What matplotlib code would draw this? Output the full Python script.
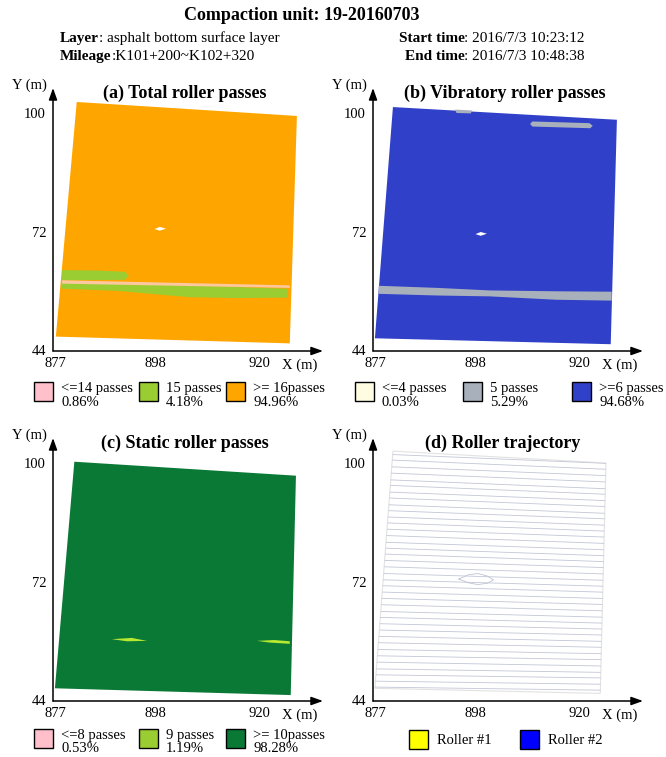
import matplotlib
matplotlib.use('Agg')
import matplotlib.pyplot as plt
from matplotlib.patches import Polygon, Rectangle

plt.rcParams['font.family'] = ['Liberation Serif', 'DejaVu Serif']

W, H = 666, 757

# ---- data (m) ----
x_ticks = [877, 898, 920]
y_ticks = [44, 72, 100]

# compaction area outlines
field_a_x = [881.4, 927.8, 926.3, 877.0]
field_a_y = [102.6, 99.3, 45.6, 47.2]
field_b_x = [880.6, 927.8, 926.5, 876.8]
field_b_y = [101.4, 98.4, 45.4, 46.8]
field_c_x = [880.9, 927.6, 926.5, 876.8]
field_c_y = [100.3, 97.0, 45.2, 46.8]
field_d_x = [880.6, 925.5, 924.3, 876.8]
field_d_y = [102.8, 100.0, 45.6, 46.8]

# (a) total passes
a_15a_x = [878.3, 886.0, 891.5, 892.4, 891.5, 878.3]
a_15a_y = [62.9, 62.8, 62.5, 61.6, 60.6, 60.5]
a_15b_x = [878.3, 890.0, 905.2, 915.0, 925.7, 925.7, 915.0, 905.2, 890.0, 878.3]
a_15b_y = [59.9, 59.6, 59.3, 58.9, 58.5, 56.4, 56.3, 56.5, 58.0, 58.5]
a_14_x = [878.3, 926.3, 926.3, 878.3]
a_14_y = [60.5, 59.3, 58.7, 59.7]
a_hole_x = [897.8, 898.9, 900.2, 898.9]
a_hole_y = [72.6, 73.1, 72.7, 72.2]

# (b) vibratory passes
b_5a_x = [877.6, 890.0, 901.0, 915.0, 926.7, 926.7, 915.0, 901.0, 890.0, 877.6]
b_5a_y = [59.2, 58.7, 58.1, 57.9, 57.8, 55.7, 55.9, 56.7, 56.9, 57.3]
b_5b_x = [893.7, 897.3, 897.0, 894.0]
b_5b_y = [100.8, 100.6, 99.9, 100.0]
b_5c_x = [909.5, 910.0, 922.0, 922.7, 922.2, 910.0]
b_5c_y = [97.4, 98.0, 97.6, 97.0, 96.4, 96.8]
b_hole_x = [898.0, 899.1, 900.4, 899.1]
b_hole_y = [71.4, 71.9, 71.5, 71.0]

# (c) static passes
c_9a_x = [888.8, 893.0, 896.2, 892.0]
c_9a_y = [58.4, 58.7, 58.0, 57.9]
c_9b_x = [919.4, 923.0, 926.3, 926.3, 922.0]
c_9b_y = [58.0, 58.2, 57.9, 57.3, 57.6]

# (d) roller trajectory: y at west / east end of each strip
traj_y_west = [102.2, 100.9, 99.3, 97.8, 96.2, 94.9, 93.3, 91.9, 90.3, 88.9, 87.4, 86.0, 84.5,
               83.0, 81.4, 80.0, 78.6, 77.1, 75.6, 74.0, 72.5, 71.1, 69.6, 68.1, 66.6, 65.0,
               63.6, 62.1, 60.6, 59.1, 57.6, 56.0, 54.5, 53.0, 51.4, 50.0, 48.5, 47.1]
traj_y_east = [99.8, 98.4, 96.9, 95.4, 93.8, 92.5, 91.0, 89.6, 88.0, 86.7, 85.2, 83.8, 82.4,
               80.9, 79.4, 78.0, 76.6, 75.2, 73.7, 72.2, 70.8, 69.4, 67.9, 66.5, 65.0, 63.5,
               62.1, 60.7, 59.3, 57.8, 56.4, 54.9, 53.5, 52.0, 50.5, 49.2, 47.7, 46.3]
traj_x = [876.0, 928.0]
lens_x = [894.5, 896.5, 898.5, 900.5, 901.8, 900.5, 898.5, 896.5, 894.5]
lens_y = [72.6, 73.6, 73.9, 73.3, 72.4, 71.6, 71.3, 71.7, 72.6]

# legends
a_labels = ['<=14 passes', '15 passes', '>= 16passes']
a_pct = [0.86, 4.18, 94.96]
a_colors = ['#ffc0cb', '#9acd32', '#ffa500']
b_labels = ['<=4 passes', '5 passes', '>=6 passes']
b_pct = [0.03, 5.29, 94.68]
b_colors = ['#fffde1', '#a8b0bc', '#3040c8']
c_labels = ['<=8 passes', '9 passes', '>= 10passes']
c_pct = [0.53, 1.19, 98.28]
c_colors = ['#ffc0cb', '#9acd32', '#0b7936']
d_labels = ['Roller #1', 'Roller #2']
d_colors = ['#ffff00', '#0000ff']


def fx(px):
    return px / W


def fy(py):
    return 1 - py / H


fig = plt.figure(figsize=(W / 100, H / 100), dpi=100)

# ---- header ----
fig.text(fx(302), fy(16), 'Compaction unit: 19-20160703', ha='center', va='center',
         fontsize=13, weight='bold')


def left_pair(x, y, bold, rest):
    t = fig.text(fx(x), fy(y), bold, ha='left', va='baseline', fontsize=11, weight='bold')
    fig.add_artist(plt.Annotation(rest, xy=(1, 0), xycoords=t, ha='left', va='bottom',
                                  fontsize=11))


def right_pair(x, y, bold, rest):
    t = fig.text(fx(x), fy(y), rest, ha='right', va='baseline', fontsize=11)
    fig.add_artist(plt.Annotation(bold, xy=(0, 0), xycoords=t, ha='right', va='bottom',
                                  fontsize=11, weight='bold'))


left_pair(60, 42, 'Layer', ': asphalt bottom surface layer')
left_pair(60, 60, 'Mileage', ':K101+200~K102+320')
right_pair(585, 42, 'Start time', ': 2016/7/3 10:23:12')
right_pair(585, 60, 'End time', ': 2016/7/3 10:48:38')


def make_axes(x0, y0, title, tx=0.489):
    ax = fig.add_axes([fx(x0), fy(y0), 270 / W, 263 / H])
    ax.set_xlim(876.4, 933.3)
    ax.set_ylim(43.8, 105.9)
    for s in ax.spines.values():
        s.set_visible(False)
    ax.set_xticks(x_ticks)
    ax.set_yticks(y_ticks)
    ax.tick_params(length=0, labelsize=10.5)
    ax.tick_params(axis='x', pad=4)
    ax.tick_params(axis='y', pad=5)
    ap = dict(arrowstyle='-|>,head_length=0.7,head_width=0.25', lw=1.1, color='black',
              shrinkA=0, shrinkB=0)
    ax.annotate('', xy=(1, 0), xytext=(0, 0), xycoords='axes fraction', arrowprops=ap)
    ax.annotate('', xy=(0, 1), xytext=(0, 0), xycoords='axes fraction', arrowprops=ap)
    ax.text(-0.089, 1.011, 'Y (m)', transform=ax.transAxes, ha='center', va='center',
            fontsize=10.5)
    ax.text(0.915, -0.053, 'X (m)', transform=ax.transAxes, ha='center', va='center',
            fontsize=10.5)
    ax.text(tx, 0.981, title, transform=ax.transAxes, ha='center', va='center',
            fontsize=13, weight='bold')
    return ax


def poly(ax, xs, ys, color, z=2, **kw):
    p = Polygon(list(zip(xs, ys)), closed=True, facecolor=color, edgecolor='none',
                zorder=z, **kw)
    ax.add_patch(p)
    return p


def legend(lefts, y_top, labels, pct, colors):
    for i in range(len(labels)):
        fig.add_artist(Rectangle((fx(lefts[i]), fy(y_top + 19)), 19 / W, 19 / H,
                                 transform=fig.transFigure, facecolor=colors[i],
                                 edgecolor='black', lw=1))
        if pct is None:
            fig.text(fx(lefts[i] + 28), fy(y_top + 10), labels[i], ha='left', va='center',
                     fontsize=10.5)
        else:
            fig.text(fx(lefts[i] + 27), fy(y_top + 6), labels[i], ha='left', va='center',
                     fontsize=10.5)
            fig.text(fx(lefts[i] + 27), fy(y_top + 20), '%.2f%%' % pct[i], ha='left',
                     va='center', fontsize=10.5)


# (a)
ax = make_axes(53, 351, '(a) Total roller passes')
poly(ax, field_a_x, field_a_y, a_colors[2])
poly(ax, a_15a_x, a_15a_y, a_colors[1], 3)
poly(ax, a_15b_x, a_15b_y, a_colors[1], 3)
poly(ax, a_14_x, a_14_y, '#fcc8a0', 4)
poly(ax, a_hole_x, a_hole_y, 'white', 4)
legend([34, 139, 226], 382, a_labels, a_pct, a_colors)

# (b)
ax = make_axes(373, 351, '(b) Vibratory roller passes')
poly(ax, field_b_x, field_b_y, b_colors[2])
poly(ax, b_5a_x, b_5a_y, b_colors[1], 3)
poly(ax, b_5b_x, b_5b_y, b_colors[1], 3)
poly(ax, b_5c_x, b_5c_y, b_colors[1], 3)
poly(ax, b_hole_x, b_hole_y, 'white', 4)
legend([355, 463, 572], 382, b_labels, b_pct, b_colors)

# (c)
ax = make_axes(53, 701, '(c) Static roller passes')
poly(ax, field_c_x, field_c_y, c_colors[2])
poly(ax, c_9a_x, c_9a_y, '#b8e830', 3)
poly(ax, c_9b_x, c_9b_y, '#b8e830', 3)
legend([34, 139, 226], 729, c_labels, c_pct, c_colors)

# (d)
ax = make_axes(373, 701, '(d) Roller trajectory', tx=0.48)
clip = poly(ax, field_d_x, field_d_y, 'white', 1)
clip.set_edgecolor('#e2e2e2')
clip.set_linewidth(0.8)
for yw, ye in zip(traj_y_west, traj_y_east):
    ln, = ax.plot(traj_x, [yw, ye], color='#c3c6d6', lw=0.6, zorder=2)
    ln.set_clip_path(clip)
ax.plot(lens_x, lens_y, color='#c0c3d4', lw=0.6, zorder=2)
legend([409, 520], 730, d_labels, None, d_colors)

fig.savefig('out.png', dpi=100)
